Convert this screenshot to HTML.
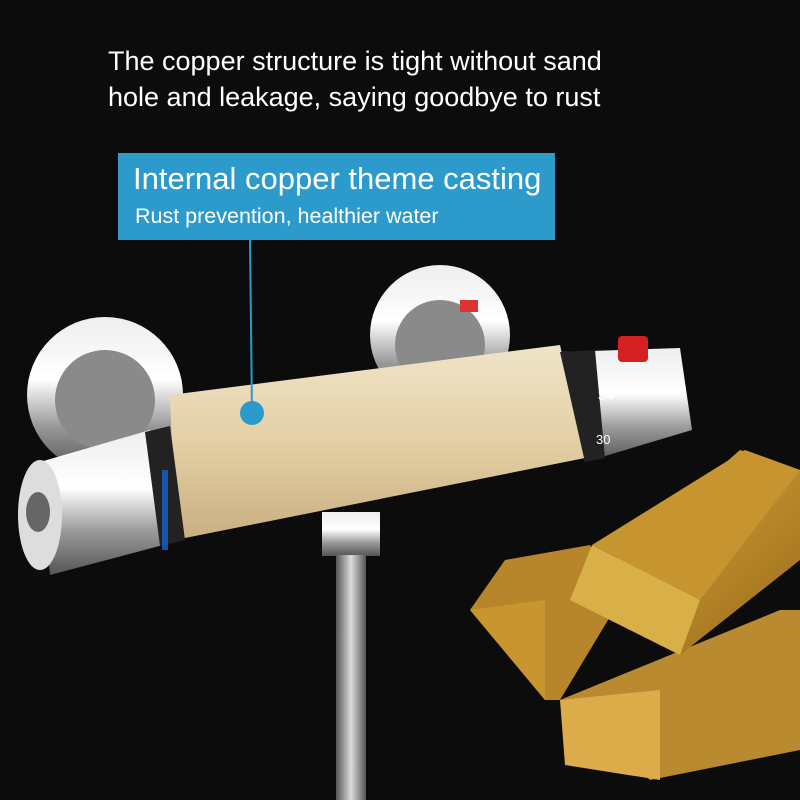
<!DOCTYPE html>
<html><head><meta charset="utf-8"><style>
html,body{margin:0;padding:0;background:#0b0b0b;}
.wrap{position:relative;width:800px;height:800px;overflow:hidden;background:#0c0c0c;font-family:"Liberation Sans",sans-serif;}
.top{position:absolute;left:108px;color:#fff;font-size:27px;white-space:nowrap;}
.box{position:absolute;left:118px;top:153px;width:437px;height:87px;background:#2c9acb;color:#fff;}
.t1{position:absolute;left:15px;top:8px;font-size:31px;white-space:nowrap;}
.t2{position:absolute;left:17px;top:51px;font-size:21.5px;white-space:nowrap;}
svg{position:absolute;left:0;top:0;}
</style></head><body><div class="wrap">
<svg width="800" height="800">
<defs>
<linearGradient id="gold" x1="0" y1="0" x2="0" y2="1"><stop offset="0" stop-color="#efe4c8"/><stop offset="0.5" stop-color="#e4cfa5"/><stop offset="1" stop-color="#c9ae80"/></linearGradient>
<linearGradient id="chrome" x1="0" y1="0" x2="0" y2="1"><stop offset="0" stop-color="#eee"/><stop offset="0.4" stop-color="#fff"/><stop offset="0.7" stop-color="#999"/><stop offset="1" stop-color="#555"/></linearGradient>
<linearGradient id="bar" x1="0" y1="0" x2="1" y2="1"><stop offset="0" stop-color="#e0b040"/><stop offset="1" stop-color="#9a6a1a"/></linearGradient>
<linearGradient id="hose" x1="0" y1="0" x2="1" y2="0"><stop offset="0" stop-color="#555"/><stop offset="0.5" stop-color="#ddd"/><stop offset="1" stop-color="#555"/></linearGradient>
</defs>
<circle cx="105" cy="395" r="78" fill="url(#chrome)"/>
<circle cx="105" cy="400" r="50" fill="#8a8a8a"/>
<circle cx="440" cy="335" r="70" fill="url(#chrome)"/>
<circle cx="440" cy="345" r="45" fill="#8a8a8a"/>
<rect x="460" y="300" width="18" height="12" fill="#d33"/>
<rect x="322" y="512" width="58" height="44" fill="url(#chrome)"/>
<rect x="336" y="555" width="30" height="245" fill="url(#hose)"/>
<polygon points="170,395 560,345 585,458 175,540" fill="url(#gold)"/>
<polygon points="560,352 680,348 692,430 585,462" fill="url(#chrome)"/>
<polygon points="560,352 595,350 605,458 585,462" fill="#222"/>
<text x="598" y="400" fill="#fff" font-size="14" font-family="Liberation Sans">34</text>
<text x="596" y="444" fill="#fff" font-size="13" font-family="Liberation Sans">30</text>
<rect x="618" y="336" width="30" height="26" rx="4" fill="#d42020"/>
<polygon points="40,462 150,430 182,540 50,575" fill="url(#chrome)"/>
<polygon points="145,432 170,426 185,540 160,546" fill="#222"/>
<rect x="162" y="470" width="6" height="80" fill="#1a5fd0" opacity="0.8"/>
<ellipse cx="40" cy="515" rx="22" ry="55" fill="#ddd"/>
<ellipse cx="38" cy="512" rx="12" ry="20" fill="#666"/>
<!-- gold bars -->
<polygon points="470,610 505,560 590,545 620,600 560,700 545,700" fill="#b8862a"/>
<polygon points="470,610 545,600 545,700" fill="#c8952e"/>
<polygon points="560,700 780,610 800,610 800,750 650,780" fill="#b98a30"/>
<polygon points="560,700 660,690 660,780 565,765" fill="#dcac4a"/>
<polygon points="570,600 740,450 800,470 800,560 680,655" fill="url(#bar)"/>
<polygon points="570,600 592,545 700,600 680,655" fill="#d9b048"/>
<polygon points="592,545 745,450 800,470 700,600" fill="#c69530"/>
<line x1="250" y1="240" x2="252" y2="412" stroke="#2c9acb" stroke-width="2"/>
<circle cx="252" cy="413" r="12" fill="#2c9acb"/>
</svg>
<div class="top" style="top:46px">The copper structure is tight without sand</div>
<div class="top" style="top:82px">hole and leakage, saying goodbye to rust</div>
<div class="box"><div class="t1">Internal copper theme casting</div><div class="t2">Rust prevention, healthier water</div></div>
</div></body></html>
